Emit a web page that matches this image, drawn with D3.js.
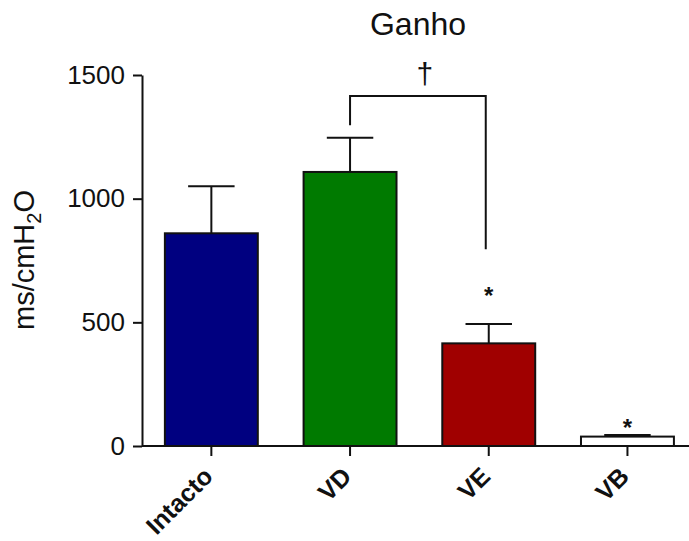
<!DOCTYPE html>
<html>
<head>
<meta charset="utf-8">
<script src="https://cdn.jsdelivr.net/npm/d3@7"></script>
<style>
  html, body { margin: 0; padding: 0; background: #fff; }
  svg { display: block; font-family: Arial, "Liberation Sans", sans-serif; }
</style>
</head>
<body>
<svg id="chart" width="689" height="541"></svg>
<script>
// Group labels, means and upper SEM values (ms/cmH2O)
const categories = ["Intacto", "VD", "VE", "VB"];
const means = [860, 1108, 415, 38];
const errors = [190, 138, 78, 6];
const fills = ["#000080", "#007a00", "#a00000", "#ffffff"];
const yTicks = [0, 500, 1000, 1500];
// Significance marks: asterisks vs. Intacto, dagger bracket VD vs. VE
const starGroups = ["VE", "VB"];
const starLevels = [575, 40];
const daggerPair = ["VD", "VE"];
const bracketLevel = 1415;
const bracketLeftEnd = 1297;
const bracketRightEnd = 795;

const svg = d3.select("#chart");
const margin = { left: 142, right: 689, top: 75, bottom: 446 };

const y = d3.scaleLinear().domain([0, 1500]).range([margin.bottom, margin.top]);
const x = d3.scaleBand().domain(categories)
  .range([margin.left, margin.left + 4 * 138.7])
  .paddingInner(0.33).paddingOuter(0.165);
const cxOf = c => x(c) + x.bandwidth() / 2;

const g = svg.append("g");

// Bars
g.selectAll("rect.bar").data(categories).join("rect")
  .attr("class", "bar")
  .attr("x", d => x(d))
  .attr("width", x.bandwidth())
  .attr("y", (d, i) => y(means[i]))
  .attr("height", (d, i) => y(0) - y(means[i]))
  .attr("fill", (d, i) => fills[i])
  .attr("stroke", "#111")
  .attr("stroke-width", 2);

// Upper error bars
const cap = x.bandwidth() / 2;
categories.forEach((c, i) => {
  const cx = cxOf(c);
  g.append("line").attr("x1", cx).attr("x2", cx)
    .attr("y1", y(means[i])).attr("y2", y(means[i] + errors[i]))
    .attr("stroke", "#111").attr("stroke-width", 2);
  g.append("line").attr("x1", cx - cap / 2).attr("x2", cx + cap / 2)
    .attr("y1", y(means[i] + errors[i])).attr("y2", y(means[i] + errors[i]))
    .attr("stroke", "#111").attr("stroke-width", 2);
});

// Y axis
const yAxis = d3.axisLeft(y).tickValues(yTicks).tickFormat(d3.format("d"))
  .tickSize(9).tickPadding(8).tickSizeOuter(0);
const ya = svg.append("g").attr("transform", `translate(${margin.left},0)`).call(yAxis);
ya.select(".domain").attr("stroke", "#111").attr("stroke-width", 2);
ya.selectAll(".tick line").attr("stroke", "#111").attr("stroke-width", 2);
ya.selectAll(".tick text").attr("font-size", 26).attr("fill", "#111")
  .attr("font-family", "Arial, 'Liberation Sans', sans-serif");

// X axis
const xAxis = d3.axisBottom(x).tickSize(10).tickSizeOuter(0).tickFormat(() => "");
const xa = svg.append("g").attr("transform", `translate(0,${margin.bottom})`).call(xAxis);
xa.select(".domain").attr("d", `M${margin.left},0H${margin.right}`)
  .attr("stroke", "#111").attr("stroke-width", 2);
xa.selectAll(".tick line").attr("stroke", "#111").attr("stroke-width", 2);

// Rotated category labels
svg.append("g").selectAll("text").data(categories).join("text")
  .attr("transform", d => `translate(${cxOf(d) + 3},${margin.bottom + 32}) rotate(-45)`)
  .attr("text-anchor", "end")
  .attr("font-size", 25)
  .attr("font-weight", "bold")
  .attr("fill", "#111")
  .text(d => d);

// Title
svg.append("text").attr("x", 418).attr("y", 35).attr("text-anchor", "middle")
  .attr("font-size", 32).attr("fill", "#111").text("Ganho");

// Y axis title with subscript
const yt = svg.append("text")
  .attr("transform", `translate(34,260) rotate(-90)`)
  .attr("text-anchor", "middle").attr("font-size", 29).attr("fill", "#111");
yt.append("tspan").text("ms/cmH");
yt.append("tspan").attr("font-size", 20).attr("dy", 7).text("2");
yt.append("tspan").attr("dy", -7).text("O");

// Bracket between VD and VE with dagger
const bx1 = cxOf(daggerPair[0]);
const bx2 = cxOf(daggerPair[1]) - 3;
svg.append("path")
  .attr("d", `M${bx1},${y(bracketLeftEnd)}V${y(bracketLevel)}H${bx2}V${y(bracketRightEnd)}`)
  .attr("fill", "none").attr("stroke", "#111").attr("stroke-width", 2);
svg.append("text").attr("x", (bx1 + bx2) / 2 + 7).attr("y", y(bracketLevel) - 12)
  .attr("text-anchor", "middle").attr("font-size", 30).attr("fill", "#111").text("†");

// Asterisks
starGroups.forEach((c, k) => {
  svg.append("text").attr("x", cxOf(c))
    .attr("y", y(starLevels[k]))
    .attr("text-anchor", "middle").attr("font-size", 24).attr("font-weight", "bold")
    .attr("fill", "#111").text("*");
});
</script>
</body>
</html>
